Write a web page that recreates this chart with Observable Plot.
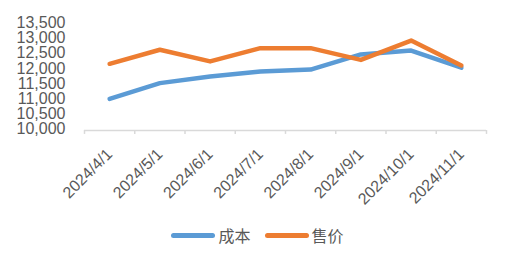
<!DOCTYPE html>
<html><head><meta charset="utf-8">
<script src="https://cdn.jsdelivr.net/npm/d3@7"></script>
<script src="https://cdn.jsdelivr.net/npm/@observablehq/plot@0.6"></script>
<style>
body{margin:0;background:#fff;font-family:"Liberation Sans",Arial,sans-serif;}
#legend{display:flex;justify-content:center;align-items:center;height:30px;font-family:"Noto Sans CJK SC",sans-serif;font-size:16px;color:#595959;padding-left:6px;}
.sw{display:inline-block;width:44px;height:5px;border-radius:3px;margin-right:3px}
.item{display:flex;align-items:center;margin:0 7px}
</style></head><body><div id="chart"></div>
<script>
const dates = ["2024/4/1","2024/5/1","2024/6/1","2024/7/1","2024/8/1","2024/9/1","2024/10/1","2024/11/1"];
const cost  = [11050, 11570, 11790, 11955, 12020, 12520, 12650, 12080];
const price = [12210, 12675, 12290, 12730, 12730, 12340, 12980, 12155];
const seriesNames = ["成本","售价"];
const seriesColors = ["#5B9BD5","#ED7D31"];
const yTicks = [10000,10500,11000,11500,12000,12500,13000,13500];

const data = dates.flatMap((d,i)=>[
  {i, date:d, series:seriesNames[0], value:cost[i]},
  {i, date:d, series:seriesNames[1], value:price[i]}
]);
const bounds = d3.range(dates.length+1).map(k=>k-0.5);

const plot = Plot.plot({
  width:509, height:220, marginLeft:84, marginRight:23, marginTop:24.4, marginBottom:90,
  style:{fontFamily:"Liberation Sans, Arial, sans-serif", fontSize:"16px", color:"#595959", background:"#fff"},
  x:{type:"linear", domain:[-0.5, dates.length-0.5], axis:null},
  y:{domain:[10000,13500], axis:null},
  color:{domain:seriesNames, range:seriesColors},
  marks:[
    Plot.axisY({ticks:yTicks, tickSize:0, tickPadding:19, tickFormat:d3.format(","), fontSize:16, fill:"#595959", dy:-1.7, label:null}),
    Plot.ruleY([10000], {x1:-0.5, x2:dates.length-0.5, stroke:"#d9d9d9", strokeWidth:1.5}),
    Plot.ruleX(bounds, {x:d=>d, y1:10000, y2:9870, stroke:"#d9d9d9", strokeWidth:1.5}),
    Plot.text(dates, {x:(d,i)=>i, y:10000, text:d=>d, rotate:-45, textAnchor:"end", dx:0, dy:21, fontSize:16, fill:"#595959"}),
    Plot.line(data, {x:"i", y:"value", stroke:"series", z:"series", strokeWidth:4.5, strokeLinecap:"round", strokeLinejoin:"round"})
  ]
});
document.getElementById("chart").appendChild(plot);
const lg = document.createElement("div");
lg.id = "legend";
lg.innerHTML = seriesNames.map((n,k)=>`<span class="item"><span class="sw" style="background:${seriesColors[k]}"></span>${n}</span>`).join("");
document.body.appendChild(lg);
</script></body></html>
